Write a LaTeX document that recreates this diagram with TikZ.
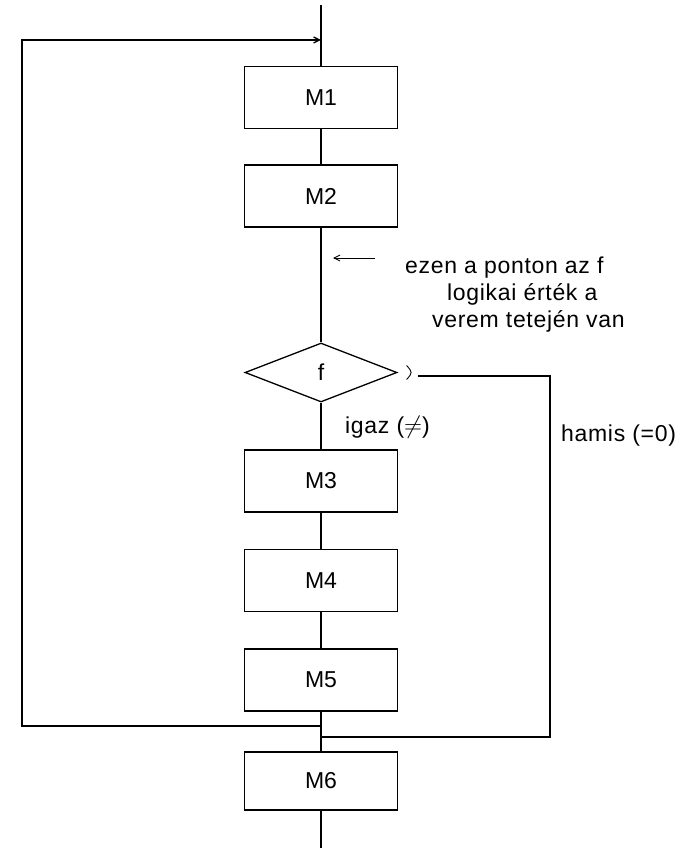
\documentclass[tikz,border=0pt]{standalone}
\usepackage{fontspec}
\setmainfont{Liberation Sans}
\newfontfamily\spaced[LetterSpace=3]{Liberation Sans}
\usetikzlibrary{shapes.geometric,arrows.meta,calc}
\begin{document}
\begin{tikzpicture}[x=1pt,y=-1pt,
  every node/.style={font=\fontsize{23}{27}\selectfont},
  blk/.style={draw,line width=1.3pt,minimum width=153pt,minimum height=62pt,inner sep=0pt},
  dia/.style={draw,diamond,line width=1.3pt,minimum width=152pt,minimum height=59pt,inner sep=0pt},
  lbl/.style={anchor=base west,inner sep=0pt,font=\spaced\fontsize{23}{27}\selectfont},
  wire/.style={line width=1.3pt},
  tip/.style={-{Straight Barb[length=6pt,width=6pt]}}]
\useasboundingbox (0,0) rectangle (682,850);
% boxes
\node[blk] (m1) at (321,97.5) {M1};
\node[blk] (m2) at (321,196) {M2};
\node[dia] (f) at (321,372.5) {f};
\node[blk] (m3) at (321,481) {M3};
\node[blk] (m4) at (321,580.5) {M4};
\node[blk] (m5) at (321,680) {M5};
\node[blk,minimum height=58pt] (m6) at (321,781) {M6};
% helper points
\coordinate (top) at (321,5);
\coordinate (in) at (321,40);
\coordinate (lc) at (22,40);
\coordinate (jl) at (321,726);
\coordinate (jr) at (321,737);
\coordinate (rs) at (418,376);
\coordinate (rc) at (550,376);
\coordinate (bot) at (321,848);
% main flow
\draw[wire] (top) -- (m1.north);
\draw[wire] (m1.south) -- (m2.north);
\draw[wire] (m2.south) -- (f.north);
\draw[wire] (f.south) -- (m3.north);
\draw[wire] (m3.south) -- (m4.north);
\draw[wire] (m4.south) -- (m5.north);
\draw[wire] (m5.south) -- (m6.north);
\draw[wire] (m6.south) -- (bot);
% loop back
\draw[wire,tip] (jl) -| (lc) -- (in);
% false branch
\draw[line width=0.9pt] ($(f.east)+(9,-7)$) .. controls ($(f.east)+(15,0)$) .. ($(f.east)+(9,7)$);
\draw[wire] (rs) -- (rc) |- (jr);
% annotation
\coordinate (aa) at (375,258);
\coordinate (ab) at (333,258);
\draw[line width=0.9pt,tip] (aa) -- (ab);
\node[lbl] (t1) at (405,273) {ezen a ponton az f};
\node[lbl] (t2) at (447,300) {logikai érték a};
\node[lbl] (t3) at (432,327) {verem tetején van};
\node[lbl] (yes) at (345,433) {igaz ($\neq$)};
\node[lbl] (no) at (561,441) {hamis (=0)};
\end{tikzpicture}
\end{document}
